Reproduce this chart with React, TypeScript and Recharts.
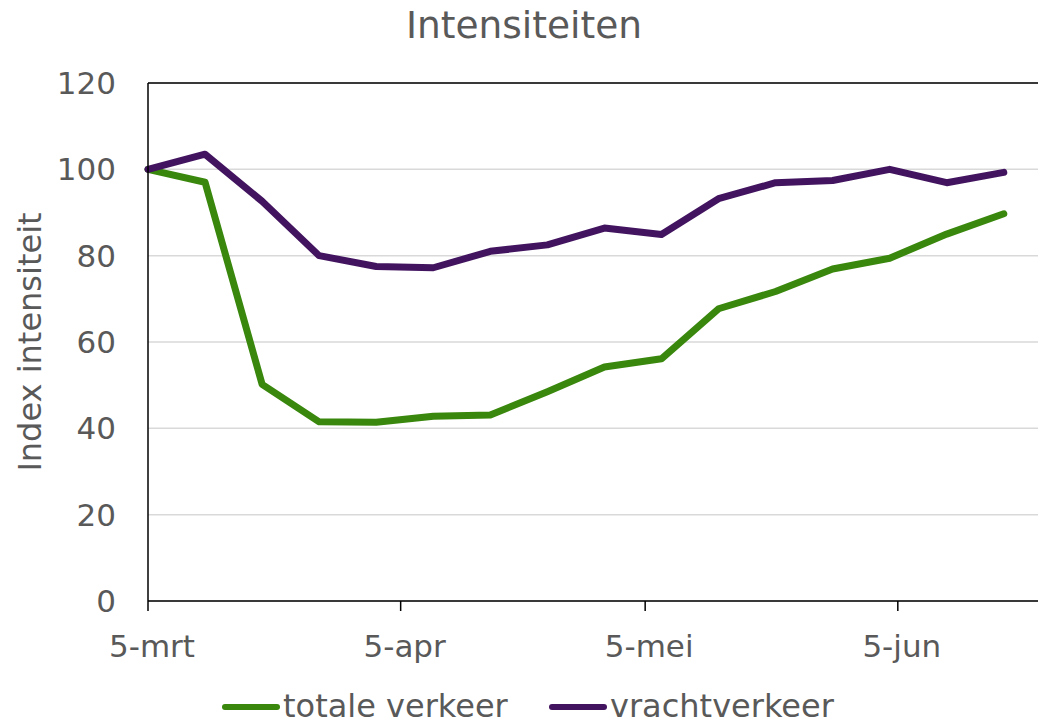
import { LineChart, Line, XAxis, YAxis, CartesianGrid, ReferenceLine } from 'recharts';

// weekly measurements, days counted from 5 March
const dayOffsets = [0, 7, 14, 21, 28, 35, 42, 49, 56, 63, 70, 77, 84, 91, 98, 105];
const dateLabels = [
  '5-mrt', '12-mrt', '19-mrt', '26-mrt', '2-apr', '9-apr', '16-apr', '23-apr',
  '30-apr', '7-mei', '14-mei', '21-mei', '28-mei', '4-jun', '11-jun', '18-jun',
];
const totaleVerkeer = [100, 97.0, 50.2, 41.5, 41.4, 42.8, 43.1, 48.5, 54.2, 56.1, 67.7, 71.7, 76.9, 79.4, 85.0, 89.7];
const vrachtverkeer = [100, 103.5, 92.6, 80.0, 77.5, 77.2, 81.0, 82.5, 86.4, 84.9, 93.2, 96.9, 97.4, 100.0, 96.9, 99.3];

const monthTicks = [0, 31, 61, 92];
const monthLabels = ['5-mrt', '5-apr', '5-mei', '5-jun'];
const yTicks = [0, 20, 40, 60, 80, 100, 120];

const GREEN = '#39870c';
const PURPLE = '#42145f';
const TEXT = '#595959';
const FONT = '"DejaVu Sans", Verdana, sans-serif';

const data = dayOffsets.map((day, i) => ({
  day,
  date: dateLabels[i],
  totaal: totaleVerkeer[i],
  vracht: vrachtverkeer[i],
}));

const MonthTick = (props: any) => {
  const { x, y, payload } = props;
  const idx = monthTicks.indexOf(payload.value);
  return (
    <text x={x + 4} y={y} dy={44} textAnchor="middle" fill={TEXT} fontSize={31} fontFamily={FONT}>
      {monthLabels[idx]}
    </text>
  );
};

const AxisTitle = (props: any) => {
  const { viewBox } = props;
  const cx = 30;
  const cy = viewBox.y + viewBox.height / 2;
  return (
    <text
      x={cx}
      y={cy}
      transform={`rotate(-90, ${cx}, ${cy})`}
      textAnchor="middle"
      dominantBaseline="central"
      fill={TEXT}
      fontSize={32}
      fontFamily={FONT}
    >
      Index intensiteit
    </text>
  );
};

export default function App() {
  return (
    <div
      style={{
        position: 'absolute',
        left: 0,
        top: 0,
        width: 1038,
        height: 723,
        overflow: 'hidden',
        background: '#fff',
        fontFamily: FONT,
      }}
    >
      <div
        style={{
          position: 'absolute',
          top: 7,
          left: 0,
          width: 1048,
          textAlign: 'center',
          fontSize: 37.5,
          lineHeight: '37px',
          color: TEXT,
        }}
      >
        Intensiteiten
      </div>

      <LineChart width={1038} height={723} data={data} margin={{ top: 83, right: 0, bottom: 0, left: 0 }}>
        <CartesianGrid vertical={false} stroke="#d9d9d9" strokeWidth={1.5} />
        <XAxis
          dataKey="day"
          type="number"
          domain={[0, 109.2]}
          ticks={monthTicks}
          height={122}
          tickSize={10}
          tickMargin={2}
          axisLine={{ stroke: '#000', strokeWidth: 1.5 }}
          tickLine={{ stroke: '#000', strokeWidth: 1.5 }}
          tick={<MonthTick />}
        />
        <YAxis
          type="number"
          domain={[0, 120]}
          ticks={yTicks}
          width={148}
          tickSize={0}
          tickMargin={32}
          tickLine={false}
          axisLine={{ stroke: '#000', strokeWidth: 1.5 }}
          tick={{ fill: TEXT, fontSize: 31, fontFamily: FONT }}
          label={<AxisTitle />}
        />
        <ReferenceLine y={120} stroke="#000" strokeWidth={1.5} />
        <Line
          dataKey="totaal"
          type="linear"
          stroke={GREEN}
          strokeWidth={7}
          strokeLinecap="round"
          strokeLinejoin="round"
          dot={false}
          isAnimationActive={false}
        />
        <Line
          dataKey="vracht"
          type="linear"
          stroke={PURPLE}
          strokeWidth={7}
          strokeLinecap="round"
          strokeLinejoin="round"
          dot={false}
          isAnimationActive={false}
        />
      </LineChart>

      <div style={{ position: 'absolute', top: 691, left: 0, width: 1038, fontSize: 32, lineHeight: '31px', color: TEXT }}>
        {[
          { name: 'totale verkeer', color: GREEN, left: 222 },
          { name: 'vrachtverkeer', color: PURPLE, left: 549 },
        ].map((item) => (
          <div key={item.name} style={{ position: 'absolute', left: item.left, top: 0, display: 'flex', alignItems: 'center', whiteSpace: 'nowrap' }}>
            <span
              style={{
                display: 'inline-block',
                width: 58,
                height: 6,
                borderRadius: 3,
                background: item.color,
                marginRight: 3,
                marginTop: 1,
              }}
            />
            <span>{item.name}</span>
          </div>
        ))}
      </div>
    </div>
  );
}
